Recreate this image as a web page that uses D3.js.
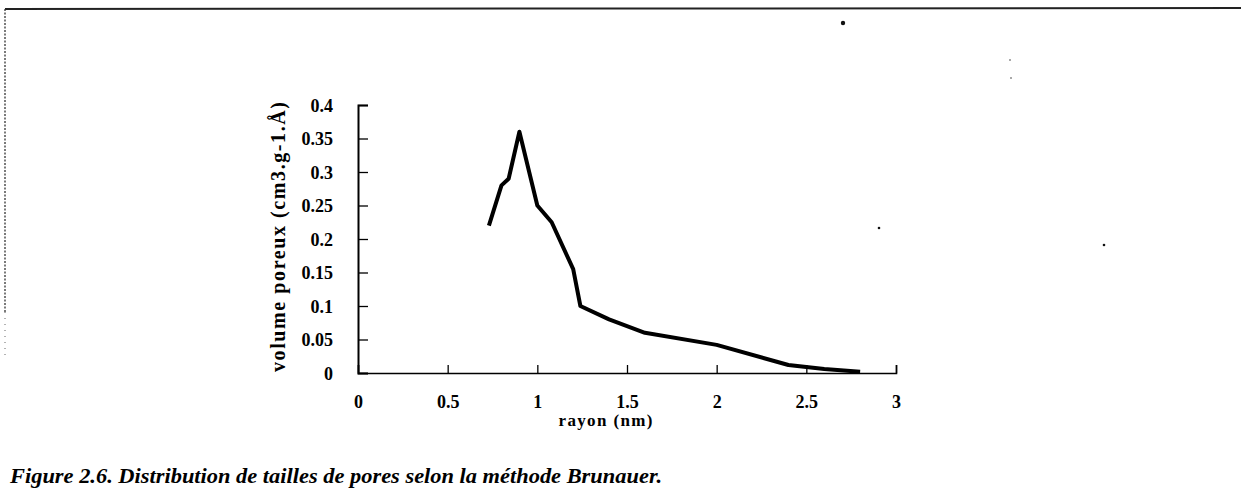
<!DOCTYPE html>
<html>
<head>
<meta charset="utf-8">
<script src="https://cdn.jsdelivr.net/npm/d3@7"></script>
<style>
  body { margin: 0; background: #fff; }
  svg { display: block; }
  .tick text { font-family: "Liberation Serif", "DejaVu Serif", serif; font-weight: bold; }
</style>
</head>
<body>
<div id="chart"></div>
<script>
// pore size distribution
const rayon = [0.73, 0.80, 0.84, 0.90, 1.00, 1.08, 1.20, 1.24, 1.40, 1.60, 2.00, 2.40, 2.60, 2.80];
const volume = [0.22, 0.28, 0.29, 0.36, 0.25, 0.225, 0.155, 0.10, 0.08, 0.06, 0.042, 0.012, 0.006, 0.002];
const xTicks = [0, 0.5, 1, 1.5, 2, 2.5, 3];
const yTicks = [0, 0.05, 0.1, 0.15, 0.2, 0.25, 0.3, 0.35, 0.4];
const specks = [[843, 23, 2.2], [879, 228, 1.3], [1104, 245, 1.3], [1010, 60, 0.7], [1011, 78, 0.7]];

let width = 1241, height = 490;
let margin = {top: 105, right: 345, bottom: 117, left: 358};

let svg = d3.select("#chart").append("svg")
    .attr("width", width)
    .attr("height", height);

// scanned page frame
svg.append("line")
    .attr("x1", 5).attr("x2", 1241).attr("y1", 9).attr("y2", 8)
    .attr("stroke", "#222").attr("stroke-width", 2);
svg.append("line")
    .attr("x1", 5).attr("x2", 5).attr("y1", 9).attr("y2", 312)
    .attr("stroke", "#333").attr("stroke-width", 1.3)
    .attr("stroke-dasharray", "2,1.5");
svg.append("line")
    .attr("x1", 5).attr("x2", 5).attr("y1", 312).attr("y2", 356)
    .attr("stroke", "#666").attr("stroke-width", 1)
    .attr("stroke-dasharray", "1,5");

svg.selectAll(".speck")
    .data(specks)
    .enter().append("circle")
    .attr("class", "speck")
    .attr("cx", d => d[0]).attr("cy", d => d[1]).attr("r", d => d[2])
    .attr("fill", "#111");

let g = svg.append("g")
    .attr("transform", "translate(" + margin.left + "," + margin.top + ")");

let w = width - margin.left - margin.right;
let h = height - margin.top - margin.bottom;

let x = d3.scaleLinear().domain([0, 3]).range([0, w]);
let y = d3.scaleLinear().domain([0, 0.4]).range([h, 0]);

// x axis, ticks pointing up
let xAxis = g.append("g")
    .attr("transform", "translate(0," + h + ")")
    .call(d3.axisBottom(x).tickValues(xTicks).tickSize(-8).tickPadding(22).tickFormat(d3.format("")));
xAxis.select(".domain").attr("stroke-width", 1.6);
xAxis.selectAll(".tick line").attr("stroke-width", 1.3);
xAxis.selectAll(".tick text").style("font-size", "18px").attr("fill", "#000");

// y axis, ticks pointing right
let yAxis = g.append("g")
    .call(d3.axisLeft(y).tickValues(yTicks).tickSize(-10).tickPadding(25).tickFormat(d3.format("")));
yAxis.select(".domain").attr("stroke-width", 2);
yAxis.selectAll(".tick line").attr("stroke-width", 1.3);
yAxis.selectAll(".tick text").style("font-size", "18px").attr("fill", "#000").attr("dy", "0.35em");

// axis titles
g.append("text")
    .attr("transform", "translate(" + (-73) + "," + (h / 2 - 2) + ") rotate(-90)")
    .attr("text-anchor", "middle")
    .attr("textLength", 270)
    .attr("lengthAdjust", "spacing")
    .style("font-family", "'Liberation Serif', serif")
    .style("font-weight", "bold")
    .style("font-size", "20px")
    .text("volume poreux (cm3.g-1.Å)");

g.append("text")
    .attr("x", x(1.38))
    .attr("y", h + 53)
    .attr("text-anchor", "middle")
    .attr("textLength", 94)
    .attr("lengthAdjust", "spacing")
    .style("font-family", "'Liberation Serif', serif")
    .style("font-weight", "bold")
    .style("font-size", "17px")
    .text("rayon (nm)");

// data line
let pts = rayon.map((r, i) => [r, volume[i]]);
let line = d3.line()
    .x(d => x(d[0]))
    .y(d => y(d[1]));

g.append("path")
    .datum(pts)
    .attr("d", line)
    .attr("fill", "none")
    .attr("stroke", "#000")
    .attr("stroke-width", 4)
    .attr("stroke-linejoin", "round");

// caption
svg.append("text")
    .attr("x", 10)
    .attr("y", 483)
    .attr("textLength", 652)
    .attr("lengthAdjust", "spacingAndGlyphs")
    .style("font-family", "'Liberation Serif', serif")
    .style("font-weight", "bold")
    .style("font-style", "italic")
    .style("font-size", "22px")
    .text("Figure 2.6. Distribution de tailles de pores selon la méthode Brunauer.");
</script>
</body>
</html>
